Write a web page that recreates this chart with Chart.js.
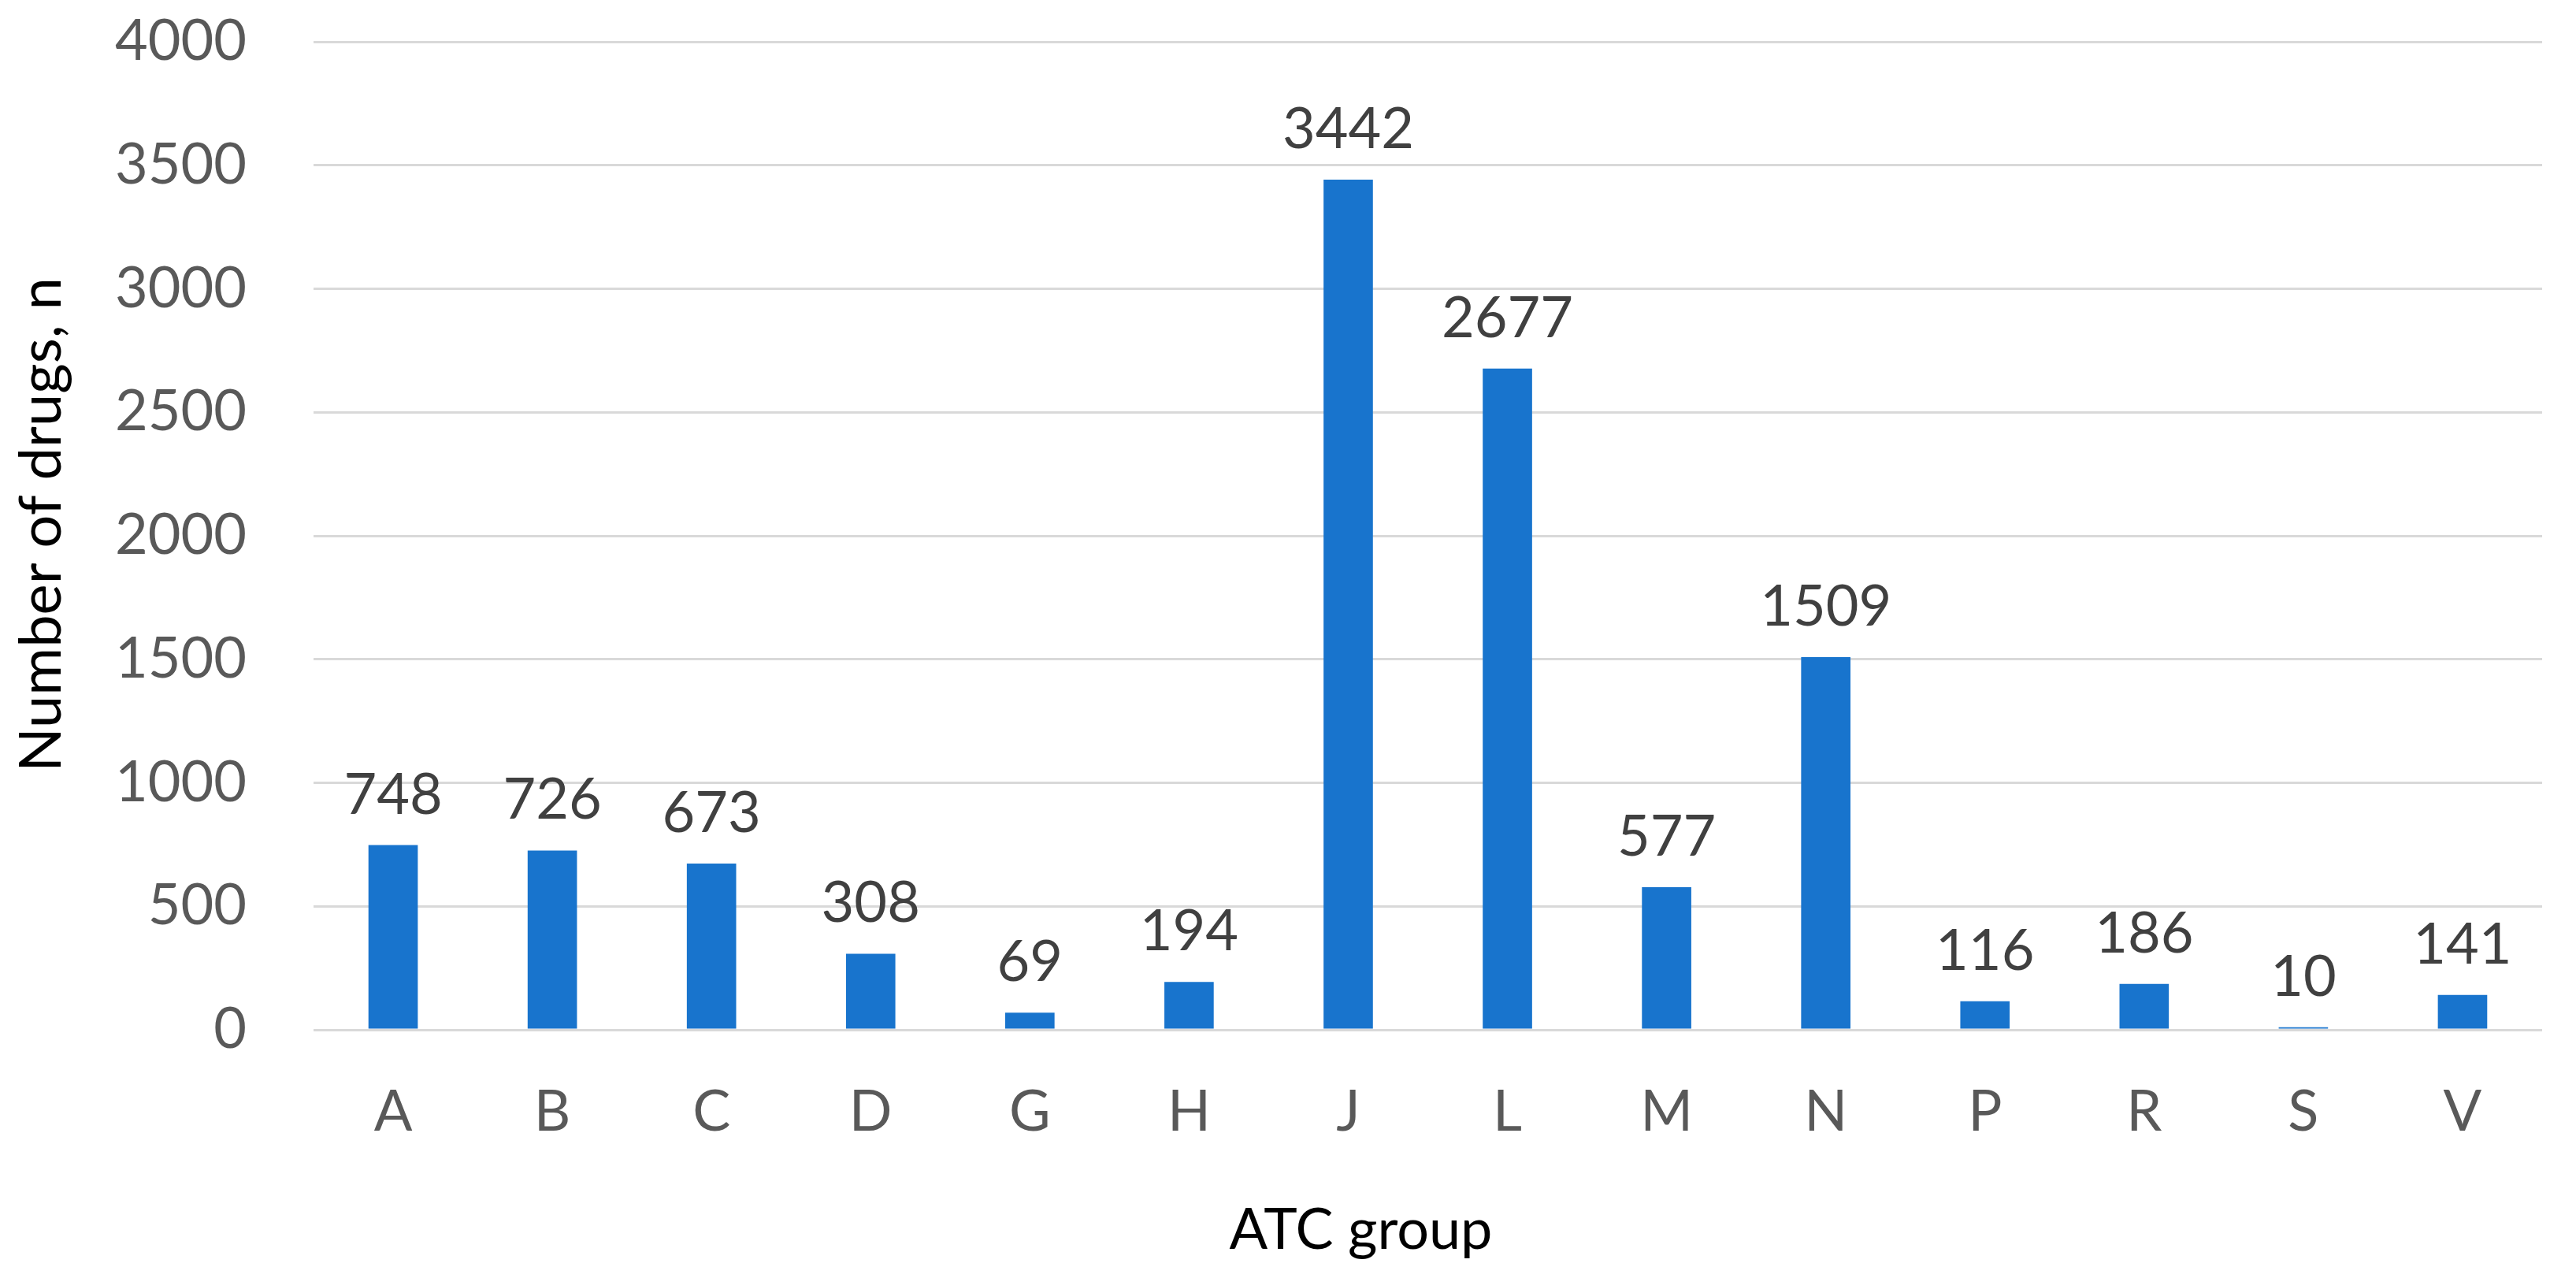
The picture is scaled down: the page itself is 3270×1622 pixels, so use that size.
<!DOCTYPE html>
<html>
<head>
<meta charset="utf-8">
<script src="https://cdn.jsdelivr.net/npm/chart.js@4.4.1/dist/chart.umd.min.js"></script>
<style>
html,body{margin:0;padding:0;background:#fff;}
#wrap{width:3270px;height:1622px;}
</style>
</head>
<body>
<div id="wrap"><canvas id="c" width="3270" height="1622"></canvas></div>
<script>
const categories = ['A','B','C','D','G','H','J','L','M','N','P','R','S','V'];
const drugCounts = [748,726,673,308,69,194,3442,2677,577,1509,116,186,10,141];
const yTicks = [0,500,1000,1500,2000,2500,3000,3500,4000];
const xTitle = 'ATC group';
const yTitle = 'Number of drugs, n';

const FONT = 'Lato';

const valueLabels = {
  id: 'valueLabels',
  afterDatasetsDraw(chart) {
    const ctx = chart.ctx;
    const meta = chart.getDatasetMeta(0);
    ctx.save();
    ctx.font = '72px ' + FONT;
    ctx.fillStyle = '#404040';
    ctx.textAlign = 'center';
    ctx.textBaseline = 'alphabetic';
    meta.data.forEach((bar, i) => {
      ctx.fillText(String(chart.data.datasets[0].data[i]), bar.x, bar.y - 40);
    });
    ctx.restore();
  }
};

const axisTitles = {
  id: 'axisTitles',
  afterDraw(chart) {
    const ctx = chart.ctx;
    const area = chart.chartArea;
    ctx.save();
    ctx.fillStyle = '#000000';
    ctx.textAlign = 'center';
    ctx.textBaseline = 'alphabetic';
    ctx.font = '72px ' + FONT;
    ctx.fillText(xTitle, (area.left + area.right) / 2 - 85, 1585);
    ctx.font = '74px ' + FONT;
    ctx.translate(77, (area.top + area.bottom) / 2 - 14);
    ctx.rotate(-Math.PI / 2);
    ctx.fillText(yTitle, 0, 0);
    ctx.restore();
  }
};

new Chart(document.getElementById('c'), {
  type: 'bar',
  data: {
    labels: categories,
    datasets: [{
      data: drugCounts,
      backgroundColor: '#1874cd',
      borderWidth: 0,
      barPercentage: 1,
      categoryPercentage: 0.31
    }]
  },
  options: {
    responsive: false,
    animation: false,
    devicePixelRatio: 1,
    layout: { padding: { left: 0, right: 43, top: 53, bottom: 0 } },
    plugins: { legend: { display: false }, tooltip: { enabled: false } },
    scales: {
      x: {
        grid: { display: false, drawTicks: false },
        border: { display: false },
        ticks: { font: { family: FONT, size: 72 }, color: '#595959', padding: 62 },
        afterFit(s) { s.height = 315; }
      },
      y: {
        min: 0, max: 4000,
        afterBuildTicks(s) { s.ticks = yTicks.map(v => ({ value: v })); },
        grid: { color: '#d9d9d9', lineWidth: 3, drawTicks: true, tickLength: 85, tickColor: 'rgba(0,0,0,0)' },
        border: { display: false },
        ticks: {
          font: { family: FONT, size: 72 }, color: '#595959', padding: 0,
          callback: (v) => String(v)
        },
        afterFit(s) { s.width = 398; }
      }
    }
  },
  plugins: [valueLabels, axisTitles]
});
</script>
</body>
</html>
